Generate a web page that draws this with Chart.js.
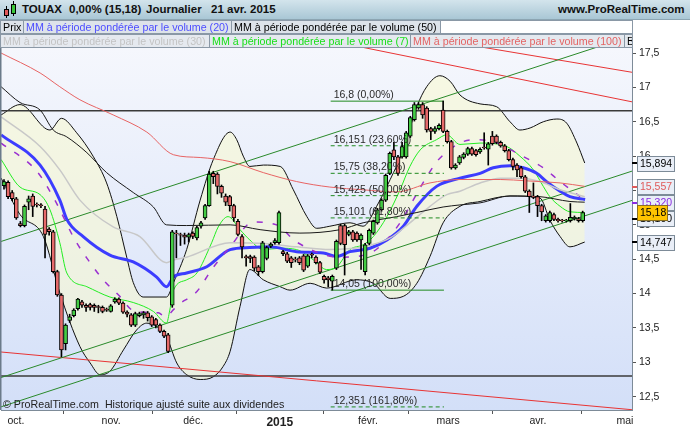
<!DOCTYPE html>
<html><head><meta charset="utf-8">
<script src="https://cdn.jsdelivr.net/npm/chart.js@4.4.0/dist/chart.umd.min.js"></script>
<style>
html,body{margin:0;padding:0;background:#fff;}
#wrap{position:relative;width:690px;height:430px;overflow:hidden;font-family:'Liberation Sans',Arial,sans-serif;}
canvas{position:absolute;left:0;top:0;}
#hdr{position:absolute;left:0;top:0;width:690px;height:20px;background:linear-gradient(#d3e4ec,#a9c7d5);border-bottom:1px solid #8ca5b2;box-sizing:border-box;}
.h{position:absolute;top:3px;font-weight:bold;font-size:11.5px;line-height:13px;color:#111;white-space:nowrap;}
.cell{position:absolute;height:14px;box-sizing:border-box;border:1px solid #8a98a6;background:#dde3ea;font-size:10.7px;line-height:12px;padding-left:2px;white-space:nowrap;overflow:hidden;}
.r2{background:rgba(228,232,238,0.96);}
#foot{position:absolute;left:3px;top:398px;font-size:10.7px;color:#222;white-space:nowrap;}
.ic{position:absolute;border:1px solid #000;box-sizing:border-box;}
.wk{position:absolute;width:1px;background:#000;}
</style></head>
<body>
<div id="wrap">
<canvas id="c" width="690" height="430"></canvas>
<div id="hdr">
  <div class="wk" style="left:6px;top:6px;height:12px"></div>
  <div class="ic" style="left:4px;top:9px;width:5px;height:7px;background:#e05a5a"></div>
  <div class="wk" style="left:13px;top:1px;height:15px"></div>
  <div class="ic" style="left:11px;top:4px;width:5px;height:10px;background:#3cc83c"></div>
  <div class="h" style="left:22px">TOUAX</div>
  <div class="h" style="left:69px">0,00% (15,18)</div>
  <div class="h" style="left:146px">Journalier</div>
  <div class="h" style="left:211px">21 avr. 2015</div>
  <div class="h" style="left:558px">www.ProRealTime.com</div>
</div>
<div class="cell" style="left:0;top:20px;width:24px;color:#000">Prix</div>
<div class="cell" style="left:23px;top:20px;width:209px;color:#4d4dff">MM à période pondérée par le volume (20)</div>
<div class="cell" style="left:231px;top:20px;width:210px;color:#000">MM à période pondérée par le volume (50)</div>
<div class="cell" style="left:440px;top:20px;width:193px;background:#fff"></div>
<div class="cell r2" style="left:0;top:34px;width:210px;color:#c4c4c4">MM à période pondérée par le volume (30)</div>
<div class="cell r2" style="left:209px;top:34px;width:202px;color:#19e019">MM à période pondérée par le volume (7)</div>
<div class="cell r2" style="left:410px;top:34px;width:215px;color:#e46464">MM à période pondérée par le volume (100)</div>
<div class="cell r2" style="left:624px;top:34px;width:9px;color:#000">B</div>
<div id="foot">© ProRealTime.com&nbsp; Historique ajusté suite aux dividendes</div>
</div>
<script>
// ---- candles (trading-day index 0..141) ----
const opens = [15.57,15.62,15.47,15.38,15.02,14.99,15.33,15.42,15.30,15.29,15.23,14.94,14.90,14.32,13.98,13.27,13.61,13.68,13.78,13.88,
13.83,13.84,13.83,13.81,13.80,13.77,13.74,13.88,13.92,13.86,13.73,13.69,13.54,13.68,13.69,13.72,13.66,13.62,13.54,13.45,
13.40,13.83,14.88,14.86,14.85,14.82,14.88,14.81,14.98,15.10,15.28,15.75,15.74,15.56,15.42,15.41,15.28,15.05,14.83,14.54,
14.54,14.53,14.39,14.32,14.51,14.69,14.74,14.74,14.61,14.58,14.52,14.50,14.52,14.55,14.40,14.57,14.53,14.45,14.25,14.23,
14.18,14.37,14.99,14.99,14.86,14.90,14.88,14.78,14.32,14.73,14.88,15.03,15.22,15.36,15.75,16.09,15.99,15.99,15.99,16.29,
16.53,16.70,16.75,16.70,16.40,16.36,16.40,16.67,16.36,16.21,15.83,15.90,15.98,16.03,16.11,16.08,16.06,16.13,16.10,16.29,
16.29,16.20,16.15,16.08,15.95,15.87,15.83,15.70,15.49,15.42,15.41,15.28,15.06,15.06,15.15,15.08,15.07,15.06,15.06,15.09,
15.09,15.06];
const highs = [15.66,15.64,15.50,15.40,15.05,15.29,15.42,15.45,15.32,15.31,15.27,14.96,14.92,14.34,14.00,13.56,13.70,13.78,13.93,13.90,
13.85,13.86,13.85,13.83,13.82,13.79,13.84,13.94,13.94,13.88,13.75,13.71,13.73,13.73,13.74,13.74,13.68,13.64,13.56,13.47,
13.42,14.92,14.92,14.88,14.88,14.88,14.90,14.98,15.05,15.30,15.78,15.78,15.76,15.58,15.45,15.43,15.30,15.08,14.86,14.56,
14.56,14.55,14.41,14.76,14.69,14.74,14.80,15.20,14.63,14.60,14.54,14.53,14.54,14.57,14.57,14.59,14.55,14.47,14.27,14.25,
14.27,14.78,15.01,15.01,14.92,14.92,14.90,14.87,14.73,14.94,15.07,15.24,15.38,15.74,16.06,16.20,16.01,16.20,16.36,16.58,
16.78,16.78,16.78,16.72,16.42,16.43,16.47,16.80,16.38,16.23,15.89,16.01,16.05,16.13,16.13,16.10,16.12,16.34,16.20,16.36,
16.31,16.22,16.17,16.10,15.97,15.89,15.85,15.72,15.51,15.61,15.43,15.30,15.15,15.20,15.17,15.10,15.08,15.08,15.31,15.13,
15.11,15.20];
const lows = [15.52,15.38,15.35,15.08,14.97,14.97,15.22,15.12,15.26,15.25,14.52,14.85,14.30,13.96,13.08,13.18,13.58,13.66,13.76,13.80,
13.74,13.76,13.74,13.72,13.72,13.74,13.73,13.86,13.84,13.71,13.66,13.52,13.52,13.66,13.64,13.60,13.52,13.50,13.43,13.36,
13.14,13.80,14.52,14.70,14.72,14.75,14.80,14.78,14.95,15.08,15.27,15.60,15.45,15.40,15.28,15.20,15.05,14.84,14.52,14.40,
14.45,14.33,14.26,14.30,14.49,14.67,14.72,14.72,14.55,14.45,14.38,14.46,14.42,14.32,14.38,14.52,14.43,14.29,14.15,14.10,
14.05,14.35,14.71,14.27,14.84,14.76,14.76,14.35,14.27,14.71,14.86,15.01,15.20,15.34,15.73,15.95,15.72,15.97,15.97,16.27,
16.51,16.68,16.55,16.35,16.24,16.33,16.38,16.34,16.19,15.81,15.81,15.88,15.96,16.01,16.01,16.00,16.04,16.10,15.87,16.16,
16.18,16.13,16.06,15.93,15.80,15.70,15.68,15.47,15.18,15.38,15.12,15.06,15.04,15.04,15.06,15.04,15.04,15.04,15.04,15.07,
15.04,15.04];
const closes = [15.63,15.41,15.38,15.10,14.99,15.27,15.38,15.27,15.29,15.28,14.86,14.90,14.32,13.98,13.18,13.54,13.66,13.76,13.92,13.83,
13.80,13.80,13.80,13.80,13.74,13.76,13.82,13.92,13.86,13.73,13.70,13.54,13.71,13.71,13.72,13.65,13.54,13.54,13.45,13.38,
13.16,14.90,14.87,14.85,14.82,14.86,14.83,14.96,15.03,15.28,15.74,15.70,15.56,15.46,15.33,15.28,15.10,14.86,14.68,14.52,
14.51,14.37,14.32,14.74,14.67,14.72,14.77,15.18,14.58,14.47,14.45,14.49,14.45,14.34,14.55,14.56,14.45,14.31,14.20,14.20,
14.25,14.76,14.73,14.71,14.90,14.78,14.78,14.85,14.71,14.92,15.05,15.22,15.36,15.72,16.04,15.99,15.75,16.14,16.34,16.56,
16.75,16.75,16.60,16.38,16.36,16.40,16.45,16.36,16.21,15.83,15.87,15.99,16.03,16.11,16.03,16.02,16.10,16.12,16.18,16.18,
16.20,16.15,16.08,15.95,15.85,15.80,15.70,15.49,15.41,15.40,15.28,15.19,15.13,15.18,15.08,15.06,15.06,15.07,15.11,15.11,
15.06,15.18];

// ---- indicators: [dayIndex, value] ----
const vwma20 = [[-0.7,16.31],[8.8,15.87],[13.6,15.36],[15.3,15.08],[19.3,14.83],[25.8,14.56],[31.5,14.46],[37.2,14.24],[39.6,14.10],[41.3,14.24],
[44.5,14.30],[49.4,14.39],[55.1,14.64],[59.9,14.67],[64.8,14.68],[71.3,14.61],[77.8,14.59],[81.1,14.54],[84.3,14.61],[89.2,14.66],
[93.3,14.78],[97.3,14.98],[100.6,15.27],[105.4,15.56],[111.1,15.68],[116,15.75],[119.2,15.83],[123.3,15.86],[126.5,15.83],[129.8,15.75],
[132.2,15.63],[135.5,15.49],[137.9,15.41],[141.6,15.37]];
const vwma30 = [[-0.7,16.57],[8.8,16.14],[13.6,15.80],[18.5,15.36],[26.6,14.97],[33.1,14.83],[39.6,14.45],[41.3,14.49],[44.5,14.53],[55.1,14.74],
[63.2,14.73],[71.3,14.68],[79.4,14.64],[87.5,14.68],[94.1,14.81],[98.9,15.03],[103.8,15.27],[107.9,15.44],[111.1,15.49],[116,15.61],
[120.9,15.68],[125.7,15.68],[130.6,15.63],[135.5,15.51],[141.5,15.41]];
const vwma7 = [[-0.7,15.95],[3.9,15.55],[8.8,15.44],[11.2,15.22],[13.6,14.74],[15.3,14.30],[20.2,14.10],[25.8,13.95],[31.5,13.87],[36.4,13.74],
[39.6,13.57],[40.4,13.76],[41.3,14.05],[44.5,14.20],[47,14.30],[50.6,14.74],[52.2,14.97],[54.6,15.12],[57.5,14.93],[59.9,14.78],
[63.2,14.64],[67.3,14.66],[71.3,14.64],[75.4,14.49],[78.6,14.35],[81.1,14.39],[84.3,14.64],[87.5,14.71],[90,14.83],[93.3,15.12],
[96.5,15.51],[98.9,15.85],[101.4,16.09],[105.4,16.24],[107.9,16.31],[111.1,16.17],[116,16.19],[122.5,16.14],[125.7,16.00],[129,15.80],
[131.4,15.56],[133,15.41],[135.5,15.27],[137.9,15.19],[141.5,15.18]];
const vwma50 = [[-0.7,17.01],[3.9,16.78],[8.8,16.67],[12,16.38],[15.3,16.28],[20.2,16.05],[25,15.76],[31.5,15.47],[36.4,15.26],[39.6,15.00],
[44.5,14.99],[55.1,15.00],[62.4,14.93],[72.1,14.88],[81.9,14.93],[87.5,15.03],[95.7,15.12],[100.6,15.18],[107,15.26],[111.1,15.29],
[116,15.32],[123.3,15.42],[130.6,15.41],[137.9,15.34],[141.5,15.33]];
const vwma100 = [[-0.7,17.50],[8.8,17.21],[13.6,17.01],[18.5,16.82],[26.6,16.60],[34.8,16.35],[41.3,16.02],[47.8,15.98],[55.1,15.92],[63.2,15.76],
[71.3,15.63],[79.4,15.55],[87.5,15.51],[95.7,15.48],[103.8,15.61],[111.1,15.66],[120.9,15.66],[127.4,15.64],[135.5,15.61],[141.5,15.56]];
const dashedMA = [[-0.7,16.19],[8,15.78],[12.4,15.36],[17.3,14.78],[20.5,14.49],[24.2,14.20],[27.9,13.98],[31.9,13.74],[37.6,13.72],[39.2,13.67],
[42.5,13.84],[47,14.03],[50.6,14.35],[55.1,14.68],[60.7,15.04],[66.4,15.00],[71.3,14.75],[81.9,14.53],[89.2,14.59],[92.4,14.73],
[96.5,15.03],[99.7,15.36],[103,15.70],[106.2,15.97],[114.4,16.24],[119.2,16.21],[125.7,16.02],[131.4,15.83],[135.5,15.63],[140.4,15.41]];
const bbUpper = [[-0.7,16.60],[3.9,16.75],[11.2,16.38],[14,16.55],[17.7,16.34],[21.8,15.99],[25,15.61],[27.5,15.12],[29.9,14.53],[31.5,14.16],
[33.9,13.95],[39.6,13.95],[41.3,14.16],[44.5,14.64],[47.8,15.36],[51,15.95],[55.1,16.35],[56.7,16.24],[58.3,16.00],[59.9,15.85],
[63.2,15.87],[67.3,15.85],[70.5,15.51],[73.8,15.12],[76.2,14.95],[79.4,14.98],[84.3,15.03],[87.5,14.98],[90.8,15.27],[94.1,15.66],
[97.3,16.09],[100.6,16.72],[103,17.01],[106.2,17.17],[108.7,17.09],[111.1,16.89],[116,16.76],[120,16.72],[123.3,16.50],[125.7,16.38],
[128.2,16.41],[131.4,16.50],[134.7,16.54],[137.1,16.48],[139.6,16.19],[141.5,15.90]];
const bbLower = [[-0.7,15.68],[3.9,15.15],[9.6,14.83],[13.6,14.01],[18.5,13.23],[21,12.99],[23.4,12.82],[25.8,12.87],[29.1,13.18],[32.3,13.47],
[34.8,13.57],[37.2,13.52],[39.6,13.37],[42.1,12.99],[44.5,12.82],[47.8,12.75],[51,12.79],[53.4,12.94],[55.1,13.16],[57.5,13.81],
[59.9,14.35],[63.2,14.20],[67.3,14.10],[69.7,14.05],[74.6,14.15],[78.6,14.08],[85.9,14.20],[90,14.15],[94.1,13.93],[97.3,13.96],
[100.6,14.15],[103.8,14.54],[107,15.03],[111.1,15.27],[116,15.34],[123.3,15.42],[130.6,15.39],[133,15.07],[135.5,14.83],[137.9,14.68],
[141.5,14.75]];

// ---- drawn lines (endpoints in day index / price) ----
const greenChannel = [
  [[-0.73,14.758],[153.02,17.752]],
  [[-0.73,12.778],[153.02,15.782]],
  [[-0.73,12.352],[153.02,15.356]]];
const redLines = [
  [[52.1,18.01],[153.02,16.79]],
  [[74.1,18.01],[153.02,17.22]],
  [[-0.73,13.15],[153.02,12.31]]];
const blackLevels = [16.66, 12.80];

// ---- Fibonacci retracement ----
const fibLevels = [16.8, 16.151, 15.75, 15.425, 15.101, 14.05, 12.351];
const fibLabels = ['16,8 (0,00%)','16,151 (23,60%)','15,75 (38,20%)','15,425 (50,00%)','15,101 (61,80%)','14,05 (100,00%)','12,351 (161,80%)'];
const fibSolid = [true,false,false,false,false,true,false];
const fibSpan = [79.6, 107.2];

// ---- axes ----
const monthLabels = ['oct.','nov.','déc.','2015','févr.','mars','avr.','mai'];
const monthPos = [2.9, 26.1, 46.1, 67.2, 88.7, 108.2, 130.1, 151.3];
const priceTicks = [12.5,13,13.5,14,14.5,15,15.5,16,16.5,17,17.5];
const axisMarks = [
  {v:15.894, t:'15,894', c:'#000'},
  {v:15.557, t:'15,557', c:'#e05a5a'},
  {v:15.320, t:'15,320', c:'#8a2be2'},
  {v:15.090, t:'15,100', c:'#000'},
  {v:14.747, t:'14,747', c:'#000'}];
const lastPrice = {v:15.18, t:'15,18'};

const FONT = "'Liberation Sans', Arial, sans-serif";
Chart.defaults.font.family = FONT;
const pts = a => a.map(p => ({x:p[0], y:p[1]}));
const lineDs = (data, color, width, extra) => Object.assign({
  type:'line', data:pts(data), borderColor:color, borderWidth:width, pointRadius:0,
  cubicInterpolationMode:'monotone', fill:false, order:5}, extra||{});

const datasets = [];
datasets.push({type:'bar', data:opens.map((o,i)=>({x:i, y:[o, closes[i] === o ? o + 0.01 : closes[i]]})),
  backgroundColor: opens.map((o,i)=> closes[i] >= o ? '#44cc44' : '#e66a6a'),
  borderColor:'#000', borderWidth:1, borderSkipped:false, barThickness:4, grouped:false, order:0});
datasets.push({type:'bar', data:lows.map((l,i)=>({x:i, y:[l, highs[i]]})),
  backgroundColor:'#000', borderWidth:0, barThickness:1, grouped:false, order:1});
const lowerIdx = datasets.length;
datasets.push(lineDs(bbLower, '#111', 1, {order:9}));
datasets.push(lineDs(bbUpper, '#111', 1, {order:9, fill:{target:lowerIdx, above:'rgba(250,250,205,0.55)', below:'rgba(250,250,205,0.55)'}}));
greenChannel.forEach(l => datasets.push(lineDs(l, '#2a8a2a', 1, {order:8, cubicInterpolationMode:'default'})));
redLines.forEach(l => datasets.push(lineDs(l, '#e83434', 1, {order:8, cubicInterpolationMode:'default'})));
blackLevels.forEach(v => datasets.push(lineDs([[-0.73,v],[153.02,v]], '#3a3a3a', 1.5, {order:8})));
datasets.push(lineDs(vwma100, '#e86464', 1));
datasets.push(lineDs(vwma50, '#1a1a1a', 1));
datasets.push(lineDs(vwma30, '#c8c8c8', 1.5));
datasets.push(lineDs(dashedMA, '#9a30d0', 1.5, {borderDash:[6,10]}));
datasets.push(lineDs(vwma20, '#3c3cff', 3));
datasets.push(lineDs(vwma7, '#22ee22', 1));
fibLevels.forEach((lv,k) => datasets.push(lineDs([[fibSpan[0],lv],[fibSpan[1],lv]], '#1f8a1f', 1,
  {order:4, borderDash: fibSolid[k] ? [] : [4,3]})));

const deco = {
  id:'deco',
  beforeDraw(chart){
    const {ctx, chartArea:a} = chart;
    ctx.save();
    ctx.fillStyle = '#fff'; ctx.fillRect(0,0,chart.width,chart.height);
    const g = ctx.createLinearGradient(0,a.top,0,a.bottom);
    g.addColorStop(0,'#f8f9fd'); g.addColorStop(1,'#d3dff8');
    ctx.fillStyle = g; ctx.fillRect(a.left,a.top,a.right-a.left,a.bottom-a.top);
    ctx.restore();
  },
  afterDatasetsDraw(chart){
    const {ctx} = chart; const xs = chart.scales.x, ys = chart.scales.y;
    ctx.save();
    ctx.font = '10.5px ' + FONT; ctx.fillStyle = '#2a2a2a'; ctx.textBaseline = 'alphabetic';
    fibLevels.forEach((lv,k) => ctx.fillText(fibLabels[k], xs.getPixelForValue(fibSpan[0]) + 3, ys.getPixelForValue(lv) - 3));
    ctx.restore();
  },
  afterDraw(chart){
    const {ctx, chartArea:a} = chart; const ys = chart.scales.y;
    ctx.save();
    ctx.fillStyle = '#6b7b8a'; ctx.fillRect(0, 18, 1.5, a.bottom - 18);
    ctx.font = '10.5px ' + FONT; ctx.textBaseline = 'middle';
    const box = (y, w, fill, stroke, txt, col) => {
      const top = Math.round(y - 7.5) + 0.5;
      ctx.fillStyle = fill; ctx.fillRect(637.5, top, w, 15);
      ctx.strokeStyle = stroke; ctx.lineWidth = 1; ctx.strokeRect(637.5, top, w, 15);
      ctx.fillStyle = col; ctx.fillText(txt, 640, top + 8);
    };
    axisMarks.forEach(m => {
      const y = ys.getPixelForValue(m.v);
      ctx.fillStyle = m.c; ctx.fillRect(632, Math.round(y) - 1, 5, 2);
      box(y, 37, '#e9eef7', '#7d8b98', m.t, m.c);
    });
    const yl = ys.getPixelForValue(lastPrice.v);
    box(yl, 30, '#ffc400', '#8a7020', lastPrice.t, '#000');
    ctx.restore();
  }
};

new Chart(document.getElementById('c'), {
  type:'bar',
  data:{datasets},
  plugins:[deco],
  options:{
    responsive:false, devicePixelRatio:1, animation:false,
    layout:{padding:{top:18, left:1, right:0, bottom:0}},
    plugins:{legend:{display:false}, tooltip:{enabled:false}, filler:{drawTime:'beforeDatasetsDraw'}},
    elements:{point:{radius:0}},
    scales:{
      x:{type:'linear', min:-0.73, max:153.02, offset:false,
        afterBuildTicks:s => { s.ticks = monthPos.map(v => ({value:v})); },
        afterFit:s => { s.height = 20; },
        grid:{drawOnChartArea:false, drawTicks:true, tickLength:4, color:'#555'},
        border:{color:'#7d8b98'},
        ticks:{autoSkip:false, maxRotation:0, padding:1, color:'#222',
          callback:(v,i) => monthLabels[i],
          font:c => (c.index === 3 ? {size:12, weight:'bold'} : {size:10.5})}},
      y:{type:'linear', position:'right', min:12.306, max:18.01,
        afterBuildTicks:s => { s.ticks = priceTicks.map(v => ({value:v})); },
        afterFit:s => { s.width = 58; },
        grid:{drawOnChartArea:false, drawTicks:true, tickLength:4, color:'#555'},
        border:{color:'#7d8b98'},
        ticks:{padding:3, color:'#222', font:{size:10.5}, callback:v => String(v).replace('.', ',')}}
    }
  }
});
</script>
</body></html>
